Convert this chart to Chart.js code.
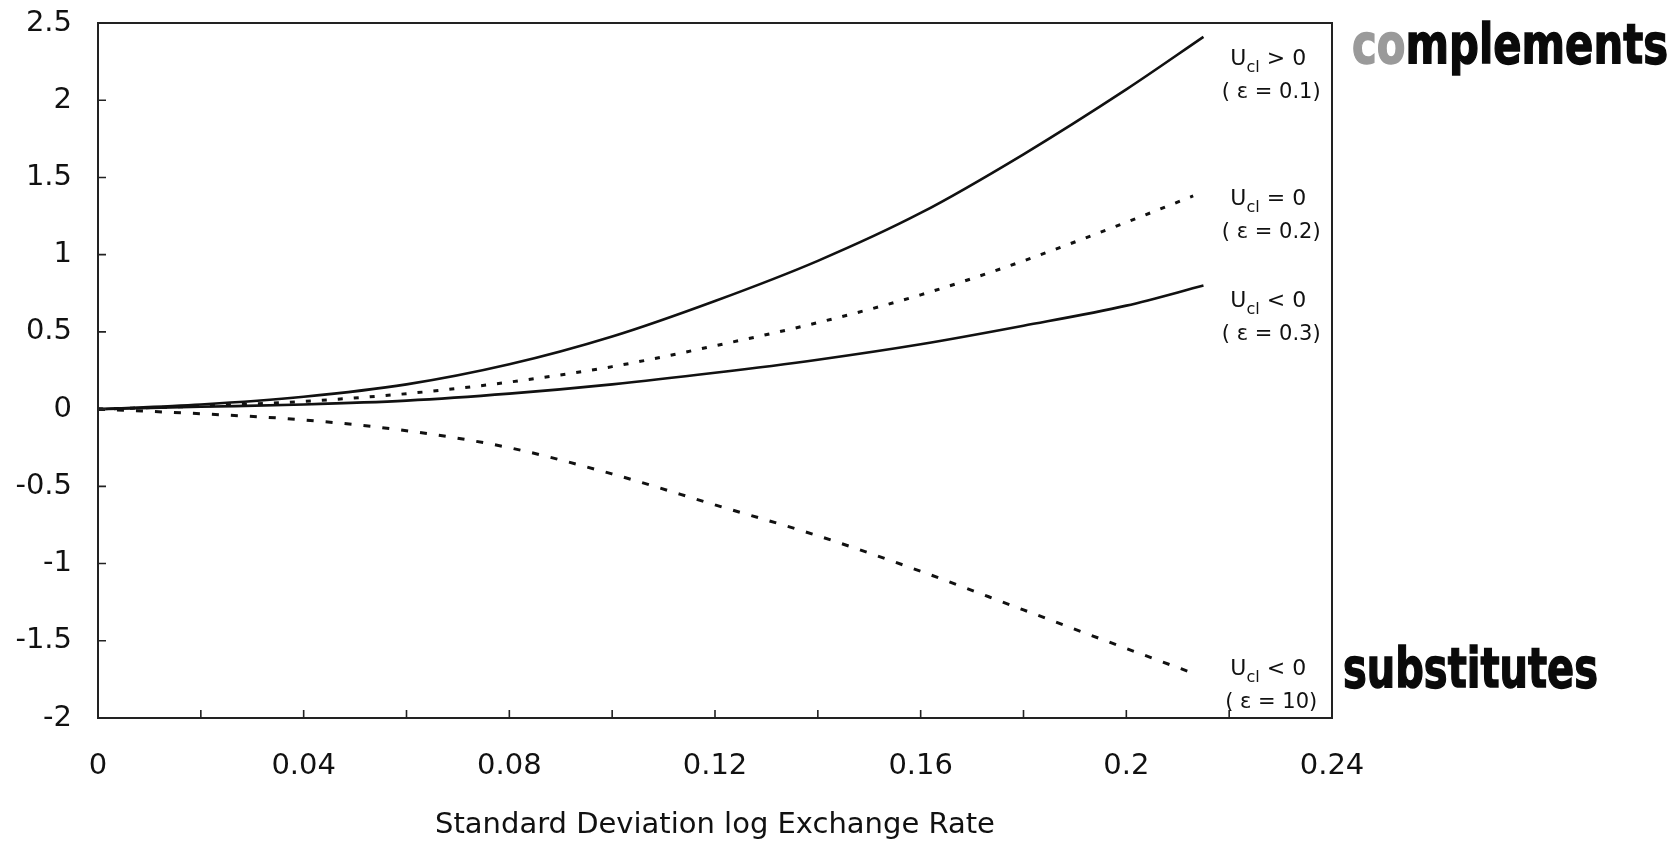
<!DOCTYPE html>
<html>
<head>
<meta charset="utf-8">
<script src="https://cdn.jsdelivr.net/npm/chart.js@4.4.1/dist/chart.umd.min.js"></script>
<style>
  html, body { margin: 0; padding: 0; background: #ffffff; }
  #wrap { width: 1671px; height: 841px; position: relative; }
</style>
</head>
<body>
<div id="wrap"><canvas id="chart" width="1671" height="841"></canvas></div>
<script>
// Standard deviation of the log exchange rate at which each curve is sampled
const sigma = [0, 0.02, 0.04, 0.06, 0.08, 0.10, 0.12, 0.14, 0.16, 0.18, 0.20];
// final sample of each curve (same order as the series below)
const sigmaEnd = [0.215, 0.213, 0.215, 0.213];

// Curves for the four elasticities
const seriesEps01 = [0, 0.03, 0.08, 0.16, 0.29, 0.47, 0.70, 0.96, 1.27, 1.65, 2.07, 2.41];
const seriesEps02 = [0, 0.02, 0.05, 0.10, 0.175, 0.275, 0.41, 0.56, 0.74, 0.96, 1.21, 1.38];
const seriesEps03 = [0, 0.015, 0.03, 0.055, 0.10, 0.16, 0.235, 0.32, 0.42, 0.54, 0.67, 0.80];
const seriesEps10 = [0, -0.03, -0.07, -0.14, -0.25, -0.42, -0.62, -0.82, -1.05, -1.30, -1.55, -1.71];

// Curve labels: sign of U_cl and the elasticity
const crossSigns = ['>', '=', '<', '<'];
const epsLabels = ['0.1', '0.2', '0.3', '10'];

// Axis ticks
const xTickValues = [0, 0.04, 0.08, 0.12, 0.16, 0.20, 0.24];
const xTickLabels = ['0', '0.04', '0.08', '0.12', '0.16', '0.2', '0.24'];
const xMarkValues = [0.02, 0.04, 0.06, 0.08, 0.10, 0.12, 0.14, 0.16, 0.18, 0.20, 0.22];
const yTickValues = [2.5, 2, 1.5, 1, 0.5, 0, -0.5, -1, -1.5, -2];
const yTickLabels = ['2.5', '2', '1.5', '1', '0.5', '0', '-0.5', '-1', '-1.5', '-2'];

const xAxisTitle = 'Standard Deviation log Exchange Rate';
const sideNotes = ['complements', 'substitutes'];

const INK = '#111111';
const FONT = "'DejaVu Sans', 'Liberation Sans', Arial, sans-serif";

function points(values, i) {
  const xs = sigma.concat([sigmaEnd[i]]);
  return values.map((v, k) => ({ x: xs[k], y: v }));
}

const allSeries = [seriesEps01, seriesEps02, seriesEps03, seriesEps10];
const lineStyles = [
  { width: 2.6, dash: [] },
  { width: 3, dash: [5, 11] },
  { width: 2.6, dash: [] },
  { width: 3, dash: [7, 12] }
];

const datasets = allSeries.map((vals, i) => ({
  label: 'ε = ' + epsLabels[i],
  data: points(vals, i),
  borderColor: INK,
  borderWidth: lineStyles[i].width,
  borderDash: lineStyles[i].dash,
  borderCapStyle: 'butt',
  pointRadius: 0,
  fill: false,
  cubicInterpolationMode: 'monotone'
}));

// Plot frame and inward tick marks
const framePlugin = {
  id: 'frame',
  afterDatasetsDraw(chart) {
    const { ctx, chartArea: a, scales } = chart;
    ctx.save();
    ctx.strokeStyle = '#222222';
    ctx.lineWidth = 2;
    ctx.strokeRect(a.left, a.top, a.right - a.left, a.bottom - a.top);
    ctx.lineWidth = 1.6;
    ctx.beginPath();
    yTickValues.forEach(v => {
      const y = scales.y.getPixelForValue(v);
      ctx.moveTo(a.left, y);
      ctx.lineTo(a.left + 8, y);
    });
    xMarkValues.forEach(v => {
      const x = scales.x.getPixelForValue(v);
      ctx.moveTo(x, a.bottom);
      ctx.lineTo(x, a.bottom - 8);
    });
    ctx.stroke();
    ctx.restore();
  }
};

// Labels at the right end of each curve: "U_cl > 0" over "( ε = 0.1)"
const curveLabelPlugin = {
  id: 'curveLabels',
  afterDraw(chart, args, opts) {
    const { ctx, scales } = chart;
    ctx.save();
    ctx.fillStyle = INK;
    ctx.textBaseline = 'alphabetic';
    opts.anchors.forEach((p, i) => {
      const cx = scales.x.getPixelForValue(p.x);
      const by = scales.y.getPixelForValue(p.y);
      const mainFont = '22px ' + FONT;
      const subFont = '16px ' + FONT;
      const tail = ' ' + crossSigns[i] + ' 0';
      ctx.font = mainFont;
      const wU = ctx.measureText('U').width;
      const wTail = ctx.measureText(tail).width;
      ctx.font = subFont;
      const wSub = ctx.measureText('cl').width;
      let x = cx - (wU + wSub + wTail) / 2;
      ctx.textAlign = 'left';
      ctx.font = mainFont;
      ctx.fillText('U', x, by);
      x += wU;
      ctx.font = subFont;
      ctx.fillText('cl', x, by + 7);
      x += wSub;
      ctx.font = mainFont;
      ctx.fillText(tail, x, by);
      ctx.font = '21px ' + FONT;
      ctx.textAlign = 'center';
      ctx.fillText('( ε = ' + epsLabels[i] + ')', cx + 3, by + 33);
    });
    ctx.restore();
  }
};

// Marker notes written beside the plot
const notesPlugin = {
  id: 'notes',
  afterDraw(chart, args, opts) {
    const { ctx } = chart;
    opts.boxes.forEach((b, i) => {
      const word = sideNotes[i];
      const parts = b.faded
        ? [{ text: word.slice(0, b.faded), color: '#9a9a9a' }, { text: word.slice(b.faded), color: '#0a0a0a' }]
        : [{ text: word, color: '#0a0a0a' }];
      ctx.save();
      ctx.font = 'bold 56px ' + FONT;
      ctx.textBaseline = 'alphabetic';
      ctx.textAlign = 'left';
      const widths = parts.map(p => ctx.measureText(p.text).width);
      const total = widths.reduce((s, w) => s + w, 0);
      ctx.translate(b.left, b.baseline);
      ctx.scale((b.right - b.left) / total, 1);
      let x = 0;
      parts.forEach((p, k) => {
        ctx.fillStyle = p.color;
        ctx.strokeStyle = p.color;
        ctx.lineWidth = 1.5;
        ctx.fillText(p.text, x, 0);
        ctx.strokeText(p.text, x, 0);
        x += widths[k];
      });
      ctx.restore();
    });
  }
};

new Chart(document.getElementById('chart'), {
  type: 'line',
  data: { datasets },
  plugins: [framePlugin, curveLabelPlugin, notesPlugin],
  options: {
    responsive: false,
    animation: false,
    devicePixelRatio: 1,
    layout: { padding: { top: 23, right: 339, bottom: 0, left: 0 } },
    plugins: {
      legend: { display: false },
      tooltip: { enabled: false },
      curveLabels: {
        anchors: [
          { x: 0.2276, y: 2.23 },
          { x: 0.2276, y: 1.32 },
          { x: 0.2276, y: 0.66 },
          { x: 0.2276, y: -1.72 }
        ]
      },
      notes: {
        boxes: [
          { left: 1352, right: 1668, baseline: 63, faded: 2 },
          { left: 1343, right: 1598, baseline: 687 }
        ]
      }
    },
    scales: {
      x: {
        type: 'linear',
        min: 0,
        max: 0.24,
        grid: { display: false, drawTicks: false },
        border: { display: false },
        afterBuildTicks: s => { s.ticks = xTickValues.map(v => ({ value: v })); },
        afterFit: s => { s.height = 123; s.paddingLeft = 0; s.paddingRight = 0; },
        ticks: {
          autoSkip: false,
          maxRotation: 0,
          padding: 31,
          color: INK,
          font: { family: FONT, size: 29 },
          callback: (v, i) => xTickLabels[i]
        },
        title: {
          display: true,
          text: xAxisTitle,
          color: INK,
          font: { family: FONT, size: 29, lineHeight: 1.1 },
          padding: { top: 0, bottom: 0 }
        }
      },
      y: {
        type: 'linear',
        min: -2,
        max: 2.5,
        grid: { display: false, drawTicks: false },
        border: { display: false },
        afterBuildTicks: s => { s.ticks = yTickValues.slice().reverse().map(v => ({ value: v })); },
        afterFit: s => { s.width = 98; s.paddingTop = 0; s.paddingBottom = 0; },
        ticks: {
          autoSkip: false,
          padding: 26,
          color: INK,
          font: { family: FONT, size: 29 },
          callback: v => yTickLabels[yTickValues.indexOf(v)]
        }
      }
    }
  }
});
</script>
</body>
</html>
